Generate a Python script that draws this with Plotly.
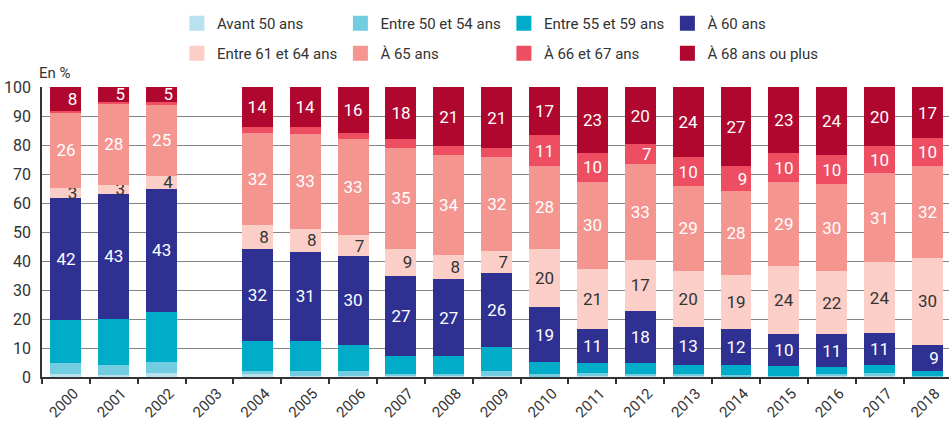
import plotly.graph_objects as go

years = ["2000", "2001", "2002", "2003", "2004", "2005", "2006", "2007", "2008", "2009",
         "2010", "2011", "2012", "2013", "2014", "2015", "2016", "2017", "2018"]

avant50 = [1.1, 0.8, 1.5, None, 0.9, 0.2, 0.3, 0.3, 0.5, 0.5, 0.3, 0.5, 0.3, 0.4, 0.3, 0.2, 0.4, 0.5, 0.3]
e50_54 = [3.8, 3.4, 3.8, None, 1.0, 1.7, 1.6, 0.9, 0.7, 1.4, 0.6, 0.8, 0.7, 0.8, 0.4, 0.3, 0.6, 1.0, 0.2]
e55_59 = [14.9, 15.9, 17.2, None, 10.6, 10.6, 9.3, 6.2, 5.9, 8.3, 4.4, 3.4, 4.0, 3.1, 3.6, 3.4, 2.3, 2.8, 1.7]
a60 = [42.0, 43.1, 42.5, None, 31.7, 30.7, 30.4, 27.3, 26.8, 25.8, 18.7, 11.7, 17.9, 13.0, 12.1, 10.8, 11.4, 11.0, 9.0]
e61_64 = [3.5, 3.1, 4.4, None, 8.1, 7.9, 7.3, 9.6, 8.3, 7.6, 20.3, 21.0, 17.6, 19.4, 18.9, 23.7, 21.7, 24.2, 30.0]
a65 = [25.8, 27.9, 24.5, None, 32.0, 32.8, 33.0, 34.8, 34.5, 32.4, 28.3, 29.7, 32.8, 29.3, 28.7, 28.7, 30.0, 30.7, 31.4]
a66_67 = [0.7, 0.7, 1.0, None, 1.8, 2.2, 2.1, 3.0, 2.8, 2.8, 11.0, 10.3, 6.9, 9.7, 8.6, 10.0, 10.3, 9.3, 9.8]
a68 = [8.1, 5.1, 5.1, None, 13.9, 13.9, 16.0, 17.9, 20.5, 21.2, 16.4, 22.6, 19.8, 24.3, 27.4, 22.9, 23.3, 20.5, 17.6]

lab_a60 = ["42", "43", "43", "", "32", "31", "30", "27", "27", "26", "19", "11", "18", "13", "12", "10", "11", "11", "9"]
lab_e61_64 = ["3", "3", "4", "", "8", "8", "7", "9", "8", "7", "20", "21", "17", "20", "19", "24", "22", "24", "30"]
lab_a65 = ["26", "28", "25", "", "32", "33", "33", "35", "34", "32", "28", "30", "33", "29", "28", "29", "30", "31", "32"]
lab_a66_67 = ["", "", "", "", "", "", "", "", "", "", "11", "10", "7", "10", "9", "10", "10", "10", "10"]
lab_a68 = ["8", "5", "5", "", "14", "14", "16", "18", "21", "21", "17", "23", "20", "24", "27", "23", "24", "20", "17"]

names = ["Avant 50 ans", "Entre 50 et 54 ans", "Entre 55 et 59 ans", "À 60 ans",
         "Entre 61 et 64 ans", "À 65 ans", "À 66 et 67 ans", "À 68 ans ou plus"]
colors = ["#b7e2ee", "#72cde1", "#00acc8", "#2e3192",
          "#fbcfc7", "#f4958f", "#ee4e62", "#b0072f"]

FONT = "Roboto, Liberation Sans, sans-serif"


def pad(s):
    return ("\u2007\u2009" + s) if len(s) == 1 else s


series = [avant50, e50_54, e55_59, a60, e61_64, a65, a66_67, a68]
labels = [None, None, None, lab_a60, lab_e61_64, lab_a65, lab_a66_67, lab_a68]
txtcol = [None, None, None, "white", "#333333", "white", "white", "white"]

fig = go.Figure()
for i, (vals, name, col) in enumerate(zip(series, names, colors)):
    lab = labels[i]
    fig.add_trace(go.Bar(
        x=years, y=vals, name=name, marker=dict(color=col, line=dict(width=0)),
        text=[pad(s) for s in lab] if lab else None,
        textposition="inside" if lab else "none",
        insidetextanchor="middle", textangle=0,
        textfont=dict(family=FONT, size=17, color=txtcol[i] or "white"),
        showlegend=False, hoverinfo="skip",
    ))

for i, (name, col) in enumerate(zip(names, colors)):
    fig.add_trace(go.Scatter(
        x=[None], y=[None], mode="markers", name=name,
        marker=dict(symbol="square", size=15, color=col, line=dict(width=0)),
        legend="legend" if i < 4 else "legend2",
    ))

leg_common = dict(orientation="h", xref="container", yref="container",
                  xanchor="left", yanchor="middle",
                  font=dict(family=FONT, size=15, color="#333333"),
                  entrywidthmode="pixels", entrywidth=118.5, itemwidth=30,
                  bgcolor="rgba(0,0,0,0)", traceorder="normal")

fig.update_layout(
    width=949, height=421,
    margin=dict(l=42, r=0, t=87, b=44, autoexpand=False),
    paper_bgcolor="white", plot_bgcolor="white",
    barmode="stack", bargap=0.353,
    font=dict(family=FONT, size=16, color="#333333"),
    uniformtext=dict(minsize=17, mode="show"),
    legend=dict(x=0.1864, y=1 - 23.5 / 421, **leg_common),
    legend2=dict(x=0.1864, y=1 - 53.5 / 421, **leg_common),
    xaxis=dict(type="category", categoryorder="array", categoryarray=years,
               range=[-0.5, 18.45], tickangle=-45, tickson="boundaries",
               ticks="outside", ticklen=5, tickwidth=1.5, tickcolor="#333333",
               showline=True, linecolor="#333333", linewidth=1.5,
               ticklabelshift=8, ticklabelstandoff=0, automargin=False,
               tickfont=dict(family=FONT, size=15, color="#333333"),
               showgrid=False, fixedrange=True),
    yaxis=dict(range=[0, 100], dtick=10, showgrid=True, gridcolor="#858585", gridwidth=1.3,
               showline=True, linecolor="#333333", linewidth=1.5, ticks="",
               ticklabelstandoff=6, zeroline=False, automargin=False,
               tickfont=dict(family=FONT, size=16, color="#333333"), fixedrange=True),
    annotations=[dict(text="En %", xref="paper", yref="paper", x=-0.006, y=1.047,
                      xanchor="left", yanchor="middle", showarrow=False,
                      font=dict(family=FONT, size=15, color="#333333"))],
)

fig.write_html("out.html", config={"displayModeBar": False},
               post_script="document.body.style.margin='0';document.body.style.overflow='hidden';")
